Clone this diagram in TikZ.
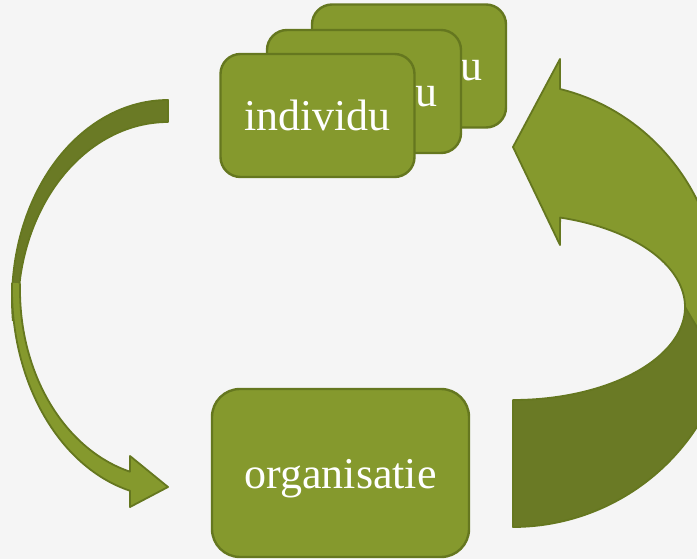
\documentclass[tikz,border=0pt]{standalone}
\usepackage{fontspec}
\setmainfont{Liberation Serif}
\definecolor{bgcol}{HTML}{F5F5F5}
\definecolor{lgreen}{HTML}{85992D}
\definecolor{dgreen}{HTML}{6A7A25}
\definecolor{edgecol}{HTML}{65771F}
\begin{document}
\begin{tikzpicture}[x=1pt,y=-1pt,
  boxbase/.style={draw=edgecol, line width=2.4pt, fill=lgreen, inner sep=0pt,
    text=white, font=\fontsize{44}{50}\selectfont, text height=30pt, text depth=0pt},
  card/.style={boxbase, rounded corners=20pt, minimum width=194pt, minimum height=123pt},
  bigbox/.style={boxbase, rounded corners=28pt, minimum width=257pt, minimum height=168pt},
  arrowedge/.style={draw=edgecol, line width=1.8pt, line join=round}]

\fill[bgcol] (0,0) rectangle (697,559);
\useasboundingbox (0,0) rectangle (697,559);
\clip (0,0) rectangle (697,559);

% left curved arrow: dark back part
\fill[dgreen]
  plot[domain=270:174, samples=60, variable=\t] ({168+156*cos(\t)},{300+200*sin(\t)})
  -- plot[domain=174:270, samples=60, variable=\t] ({168+150*cos(\t)},{310+188*sin(\t)})
  -- cycle;
\draw[arrowedge]
  plot[domain=174:270, samples=60, variable=\t] ({168+150*cos(\t)},{310+188*sin(\t)})
  -- plot[domain=270:174, samples=60, variable=\t] ({168+156*cos(\t)},{300+200*sin(\t)});
% left curved arrow: light front part with head
\fill[lgreen]
  plot[domain=182:104.1, samples=60, variable=\t] ({168+156*cos(\t)},{290+207*sin(\t)})
  -- (130,507) -- (168,487) -- (130,456)
  -- plot[domain=104.9:182, samples=60, variable=\t] ({168+148*cos(\t)},{290+188*sin(\t)})
  -- cycle;
\draw[arrowedge]
  plot[domain=182:104.1, samples=60, variable=\t] ({168+156*cos(\t)},{290+207*sin(\t)})
  -- (130,507) -- (168,487) -- (130,456)
  -- plot[domain=104.9:182, samples=60, variable=\t] ({168+148*cos(\t)},{290+188*sin(\t)});

% right curved arrow: light part with head
\path[fill=lgreen, arrowedge]
  (560,89)
  -- plot[domain=283.1:380, samples=80, variable=\t] ({513+207.5*cos(\t)},{300+216.6*sin(\t)})
  -- (685,307)
  -- plot[domain=360:285.9, samples=80, variable=\t] ({513+172*cos(\t)},{307+93*sin(\t)})
  -- (560,245) -- (513,147) -- (560,59) -- cycle;
% right curved arrow: dark tail part
\path[fill=dgreen, arrowedge]
  (513,400) -- (513,527)
  -- plot[domain=90:20, samples=80, variable=\t] ({513+219.5*cos(\t)},{307+220*sin(\t)})
  -- (710,349) -- (685,307)
  -- plot[domain=0:90, samples=80, variable=\t] ({513+172*cos(\t)},{307+93*sin(\t)})
  -- cycle;

% stacked cards
\node[card] (back) at (409,66) {individu};
\node[card] (middle) at (364,91.5) {individu};
\node[card] (front) at (317.5,115.5) {individu};

% organisation box
\node[bigbox] (org) at (340.5,473) {organisatie};
\end{tikzpicture}
\end{document}
